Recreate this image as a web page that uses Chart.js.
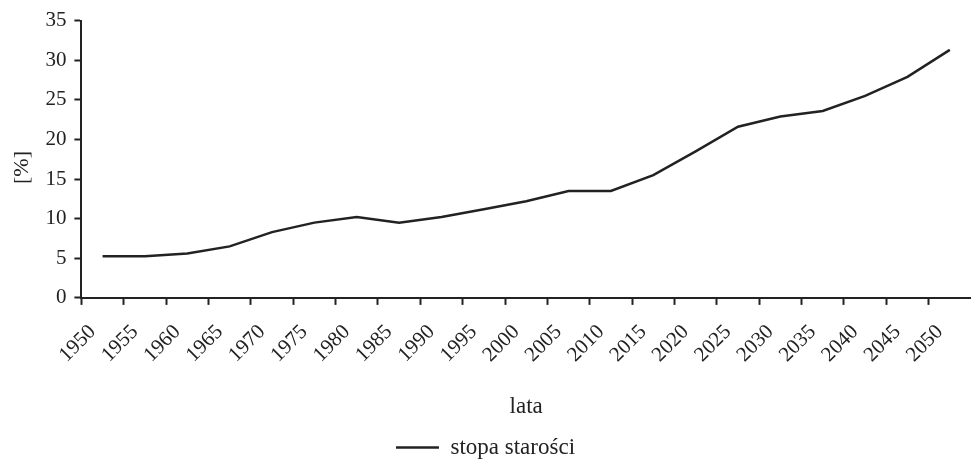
<!DOCTYPE html>
<html>
<head>
<meta charset="utf-8">
<script src="https://cdn.jsdelivr.net/npm/chart.js@4"></script>
<style>
  html, body { margin: 0; padding: 0; background: #fff; }
  #wrap { width: 971px; height: 459px; }
</style>
</head>
<body>
<div id="wrap"><canvas id="chart"></canvas></div>
<script>
// years on the category axis
const years = ['1950', '1955', '1960', '1965', '1970', '1975', '1980', '1985', '1990', '1995', '2000',
    '2005', '2010', '2015', '2020', '2025', '2030', '2035', '2040', '2045', '2050'];

// stopa starości [%]
const oldAgeRate = [5.25, 5.25, 5.6, 6.5, 8.3, 9.5, 10.2, 9.5, 10.2, 11.2, 12.2,
    13.5, 13.5, 15.5, 18.5, 21.6, 22.9, 23.6, 25.5, 27.9, 31.3];

const yTicks = [0, 5, 10, 15, 20, 25, 30, 35];

const ink = '#222';
const serif = '"Liberation Serif", "Times New Roman", serif';

Chart.defaults.font.family = serif;
Chart.defaults.color = ink;

const ctx = document.getElementById('chart').getContext('2d');
const chart = new Chart(ctx, {
    type: 'line',
    data: {
        labels: years,
        datasets: [{
            label: 'stopa starości',
            data: oldAgeRate,
            borderColor: ink,
            backgroundColor: ink,
            borderWidth: 2.5,
            pointRadius: 0,
            tension: 0,
        }],
    },
    options: {
        responsive: true,
        maintainAspectRatio: false,
        animation: false,
        layout: {
            padding: { top: 2, right: 0, left: 0, bottom: -10 },
        },
        plugins: {
            legend: {
                position: 'bottom',
                labels: {
                    usePointStyle: true,
                    pointStyle: 'line',
                    pointStyleWidth: 43,
                    font: { size: 23 },
                    color: ink,
                    padding: 4,
                },
            },
            tooltip: { enabled: false },
        },
        scales: {
            x: {
                type: 'category',
                offset: true,
                afterFit: function(axis) {
                    // axis line runs to the right edge, as in the original
                    axis.paddingRight = 0;
                },
                grid: {
                    display: true,
                    offset: true,
                    drawOnChartArea: false,
                    drawTicks: true,
                    tickLength: 7,
                    tickWidth: 2,
                    // no tick mark at the far right end of the axis
                    color: c => (c.type === 'tick' ? ink : 'rgba(0,0,0,0)'),
                },
                border: { display: true, color: ink, width: 2 },
                ticks: {
                    autoSkip: false,
                    minRotation: 45,
                    maxRotation: 45,
                    labelOffset: -10,
                    padding: 15,
                    font: { size: 21 },
                    color: ink,
                },
                title: {
                    display: true,
                    text: 'lata',
                    font: { size: 23 },
                    color: ink,
                    padding: { top: 11, bottom: 11 },
                },
            },
            y: {
                min: 0,
                max: 35,
                afterBuildTicks: function(axis) {
                    axis.ticks = yTicks.map(v => ({ value: v }));
                },
                grid: {
                    display: true,
                    drawOnChartArea: false,
                    drawTicks: true,
                    tickLength: 7,
                    tickWidth: 2,
                    color: ink,
                },
                border: { display: true, color: ink, width: 2 },
                ticks: {
                    padding: 8,
                    font: { size: 21 },
                    color: ink,
                },
                title: {
                    display: true,
                    text: '[%]   ',
                    font: { size: 22 },
                    color: ink,
                    padding: { top: 9, bottom: 2 },
                },
            },
        },
    },
});
</script>
</body>
</html>
